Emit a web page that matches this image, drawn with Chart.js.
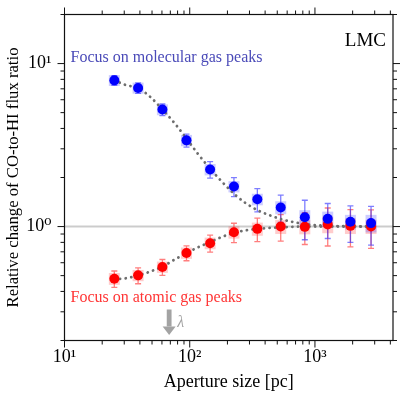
<!DOCTYPE html>
<html>
<head>
<meta charset="utf-8">
<script src="https://cdn.jsdelivr.net/npm/chart.js@4.4.1/dist/chart.umd.min.js"></script>
<style>
  body { margin: 0; background: #fff; }
  #wrap { width: 407px; height: 399px; }
</style>
</head>
<body>
<div id="wrap"><canvas id="fluxChart"></canvas></div>
<script>
// aperture sizes [pc]
const apertures = [25, 38.7, 60.5, 94.2, 145.5, 225.5, 346.7, 533, 830, 1265, 1920, 2805];

// focus on molecular gas peaks
const molRatio = [7.89, 7.09, 5.22, 3.38, 2.24, 1.76, 1.47, 1.31, 1.14, 1.115, 1.07, 1.05];
const molErr   = [0.55, 0.53, 0.43, 0.31, 0.26, 0.235, 0.24, 0.25, 0.31, 0.27, 0.27, 0.28];
const molSys   = [0.6, 0.55, 0.4, 0.27, 0.18, 0.14, 0.12, 0.12, 0.12, 0.12, 0.11, 0.13];

// focus on atomic gas peaks
const atomRatio = [0.479, 0.502, 0.565, 0.689, 0.791, 0.923, 0.968, 1.0, 0.996, 1.03, 1.01, 1.0];
const atomErr   = [0.055, 0.056, 0.063, 0.072, 0.094, 0.125, 0.16, 0.185, 0.22, 0.27, 0.26, 0.265];
const atomSys   = [0.04, 0.04, 0.045, 0.055, 0.065, 0.08, 0.09, 0.1, 0.1, 0.12, 0.11, 0.1];

// dotted model curves
const fitSizes = [25, 31, 38.8, 48.1, 60.8, 76.2, 94.4, 116, 146, 181, 226, 281, 350, 437, 545, 692, 910, 1315, 2845];
const molFit   = [7.9, 7.38, 7.07, 6.27, 5.21, 4.28, 3.46, 2.8, 2.26, 1.883, 1.588, 1.389, 1.258, 1.172, 1.107, 1.061, 1.027, 1.01, 1.0];
const atomFit  = [0.474, 0.482, 0.501, 0.529, 0.569, 0.629, 0.689, 0.745, 0.805, 0.864, 0.915, 0.948, 0.968, 0.982, 0.989, 0.998, 1.0, 1.0, 1.0];

const lambdaSize = 68.5;
const xTickValues = [10, 100, 1000];
const xTickLabels = ['10¹', '10²', '10³'];
const yTickValues = [1, 10];
const yTickLabels = ['10⁰', '10¹'];

const serif = "'Liberation Serif', 'DejaVu Serif', serif";

function pts(xs, ys) {
  return xs.map((v, i) => ({ x: v, y: ys[i] }));
}

function tickLabel(values, labels) {
  return function (value) {
    const i = values.findIndex(v => Math.abs(v - value) / v < 1e-6);
    return i >= 0 ? labels[i] : '';
  };
}

function drawSet(ctx, x, y, ys, errs, sys, boxColor, barColor) {
  apertures.forEach((a, i) => {
    const px = x.getPixelForValue(a);
    const top = y.getPixelForValue(ys[i] + sys[i]);
    const bot = y.getPixelForValue(ys[i] - sys[i]);
    ctx.fillStyle = boxColor;
    ctx.fillRect(px - 5.5, top, 11, bot - top);
  });
  ctx.strokeStyle = barColor;
  ctx.lineWidth = 1.3;
  apertures.forEach((a, i) => {
    const px = x.getPixelForValue(a);
    const top = y.getPixelForValue(ys[i] + errs[i]);
    const bot = y.getPixelForValue(ys[i] - errs[i]);
    ctx.beginPath();
    ctx.moveTo(px, top); ctx.lineTo(px, bot);
    ctx.moveTo(px - 3, top); ctx.lineTo(px + 3, top);
    ctx.moveTo(px - 3, bot); ctx.lineTo(px + 3, bot);
    ctx.stroke();
  });
}

const decor = {
  id: 'decor',
  beforeDatasetsDraw(chart) {
    const { ctx, chartArea: a, scales: { x, y } } = chart;
    ctx.save();
    ctx.beginPath();
    ctx.rect(a.left, a.top, a.right - a.left, a.bottom - a.top);
    ctx.clip();
    const y1 = y.getPixelForValue(1);
    ctx.strokeStyle = 'rgba(0,0,0,0.2)';
    ctx.lineWidth = 2;
    ctx.beginPath();
    ctx.moveTo(a.left, y1); ctx.lineTo(a.right, y1);
    ctx.stroke();
    drawSet(ctx, x, y, atomRatio, atomErr, atomSys, 'rgba(255,0,0,0.2)', 'rgba(255,40,40,0.6)');
    drawSet(ctx, x, y, molRatio, molErr, molSys, 'rgba(0,0,255,0.2)', 'rgba(40,40,255,0.6)');
    ctx.restore();
  },
  afterDraw(chart) {
    const { ctx, chartArea: a, scales: { x, y } } = chart;
    ctx.save();
    // frame
    ctx.strokeStyle = '#111';
    ctx.lineWidth = 1.2;
    ctx.strokeRect(a.left, a.top, a.right - a.left, a.bottom - a.top);
    // ticks, outward on all sides
    ctx.lineWidth = 1;
    ctx.beginPath();
    for (let e = 1; e <= 3; e++) {
      for (let m = 1; m <= 9; m++) {
        const v = m * Math.pow(10, e);
        if (v < x.min || v > x.max) continue;
        const p = x.getPixelForValue(v);
        const len = m === 1 ? 7 : 4;
        ctx.moveTo(p, a.bottom); ctx.lineTo(p, a.bottom + len);
        ctx.moveTo(p, a.top); ctx.lineTo(p, a.top - len);
      }
    }
    for (let e = -1; e <= 1; e++) {
      for (let m = 1; m <= 9; m++) {
        const v = m * Math.pow(10, e);
        if (v < y.min - 1e-9 || v > y.max + 1e-9) continue;
        const p = y.getPixelForValue(v);
        const len = m === 1 ? 7 : 4;
        ctx.moveTo(a.left, p); ctx.lineTo(a.left - len, p);
        ctx.moveTo(a.right, p); ctx.lineTo(a.right + len, p);
      }
    }
    ctx.stroke();

    // lambda arrow
    const ax = x.getPixelForValue(lambdaSize);
    ctx.fillStyle = '#a3a3a3';
    ctx.fillRect(ax - 2.4, a.bottom - 31, 4.8, 17);
    ctx.beginPath();
    ctx.moveTo(ax - 6.5, a.bottom - 14);
    ctx.lineTo(ax + 6.5, a.bottom - 14);
    ctx.lineTo(ax, a.bottom - 5.5);
    ctx.closePath();
    ctx.fill();
    ctx.font = 'italic 16px ' + serif;
    ctx.textAlign = 'left';
    ctx.textBaseline = 'alphabetic';
    ctx.fillText('λ', ax + 8, a.bottom - 14);

    // annotations
    ctx.font = '19px ' + serif;
    ctx.fillStyle = '#000';
    ctx.textAlign = 'right';
    ctx.fillText('LMC', a.right - 7, a.top + 31);
    ctx.font = '16px ' + serif;
    ctx.textAlign = 'left';
    ctx.fillStyle = '#4a4ab8';
    ctx.fillText('Focus on molecular gas peaks', a.left + 6, a.top + 47);
    ctx.fillStyle = '#ff3535';
    ctx.fillText('Focus on atomic gas peaks', a.left + 6, a.bottom - 39);
    ctx.restore();
  }
};

new Chart(document.getElementById('fluxChart'), {
  type: 'scatter',
  data: {
    datasets: [
      {
        label: 'Molecular peaks',
        data: pts(apertures, molRatio),
        backgroundColor: '#0000ff',
        borderWidth: 0,
        pointRadius: 5,
        order: 0
      },
      {
        label: 'Atomic peaks',
        data: pts(apertures, atomRatio),
        backgroundColor: '#ff0000',
        borderWidth: 0,
        pointRadius: 5,
        order: 1
      },
      {
        label: 'Molecular model',
        data: pts(fitSizes, molFit),
        showLine: true,
        borderColor: '#6e6e6e',
        borderWidth: 2.8,
        borderDash: [0.1, 5.6],
        borderCapStyle: 'round',
        cubicInterpolationMode: 'monotone',
        pointRadius: 0,
        order: 2
      },
      {
        label: 'Atomic model',
        data: pts(fitSizes, atomFit),
        showLine: true,
        borderColor: '#6e6e6e',
        borderWidth: 2.8,
        borderDash: [0.1, 5.6],
        borderCapStyle: 'round',
        cubicInterpolationMode: 'monotone',
        pointRadius: 0,
        order: 3
      }
    ]
  },
  options: {
    responsive: true,
    maintainAspectRatio: false,
    animation: false,
    layout: { padding: { top: 14.5, right: 14, left: 0, bottom: 0 } },
    plugins: {
      legend: { display: false },
      tooltip: { enabled: false }
    },
    scales: {
      x: {
        type: 'logarithmic',
        min: 10,
        max: 4200,
        afterFit: s => { s.height = 58.5; s.paddingLeft = 0; s.paddingRight = 0; },
        grid: { display: false, drawTicks: false },
        border: { display: false },
        ticks: {
          autoSkip: false,
          maxRotation: 0,
          padding: 6,
          color: '#000',
          font: { family: serif, size: 18 },
          callback: tickLabel(xTickValues, xTickLabels)
        },
        title: {
          display: true,
          text: 'Aperture size [pc]',
          color: '#000',
          font: { family: serif, size: 18 },
          padding: { top: 0, bottom: 5.5 }
        }
      },
      y: {
        type: 'logarithmic',
        min: 0.2,
        max: 20,
        afterFit: s => { s.width = 64.5; s.paddingTop = 0; s.paddingBottom = 0; },
        grid: { display: false, drawTicks: false },
        border: { display: false },
        ticks: {
          autoSkip: false,
          padding: 13,
          color: '#000',
          font: { family: serif, size: 18 },
          callback: tickLabel(yTickValues, yTickLabels)
        },
        title: {
          display: true,
          text: 'Relative change of CO-to-HI flux ratio',
          color: '#000',
          font: { family: serif, size: 16.7 },
          padding: { top: 4, bottom: 0 }
        }
      }
    }
  },
  plugins: [decor]
});
</script>
</body>
</html>
